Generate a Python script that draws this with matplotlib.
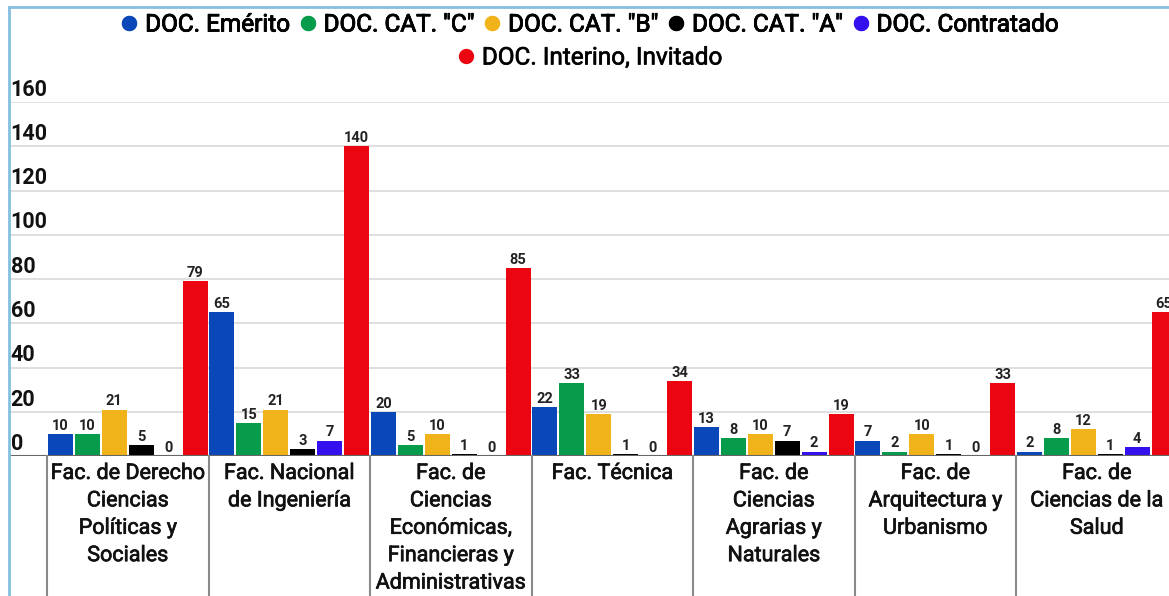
import matplotlib
matplotlib.use("Agg")
import matplotlib.pyplot as plt
import matplotlib.patheffects as pe
from matplotlib.lines import Line2D
import numpy as np

plt.rcParams['font.family'] = ['Roboto', 'DejaVu Sans']

facultades = ["Fac. de Derecho\nCiencias\nPolíticas y\nSociales",
              "Fac. Nacional\nde Ingeniería",
              "Fac. de\nCiencias\nEconómicas,\nFinancieras y\nAdministrativas",
              "Fac. Técnica",
              "Fac. de\nCiencias\nAgrarias y\nNaturales",
              "Fac. de\nArquitectura y\nUrbanismo",
              "Fac. de\nCiencias de la\nSalud"]

series = ['DOC. Emérito', 'DOC. CAT. "C"', 'DOC. CAT. "B"', 'DOC. CAT. "A"',
          'DOC. Contratado', 'DOC. Interino, Invitado']
emerito = [10, 65, 20, 22, 13, 7, 2]
cat_c = [10, 15, 5, 33, 8, 2, 8]
cat_b = [21, 21, 10, 19, 10, 10, 12]
cat_a = [5, 3, 1, 1, 7, 1, 1]
contratado = [0, 7, 0, 0, 2, 0, 4]
interino = [79, 140, 85, 34, 19, 33, 65]
valores = [emerito, cat_c, cat_b, cat_a, contratado, interino]
colores = ['#0a47b9', '#079c4c', '#f0b31a', '#000000', '#3410ee', '#ea0510']
yticks = [0, 20, 40, 60, 80, 100, 120, 140, 160]

W, H = 1169, 596
fig = plt.figure(figsize=(W / 100, H / 100), dpi=100)
# plot area: x from 10px to 1177.5px (cut by the right edge), baseline at y=456, top at y=102
x0, x1 = 10, 1177.5
ax = fig.add_axes([x0 / W, (H - 456) / H, (x1 - x0) / W, (456 - 102) / H])
cat_w = 161.5
ax.set_xlim(-(47 - x0) / cat_w, 7)
ax.set_ylim(0, 160)
for s in ax.spines.values():
    s.set_visible(False)
ax.set_xticks([])
ax.set_yticks([])

# slightly heavier text, like the original rendering
halo = [pe.withStroke(linewidth=0.5, foreground='#111111')]

for t in yticks[1:]:
    ax.axhline(t, color='#d9d9d9', lw=1.2, zorder=0)
for t in yticks:
    ax.annotate(str(t), (0.0, t), xycoords=('axes fraction', 'data'),
                xytext=(0.5, 4.5), textcoords='offset points', ha='left', va='baseline',
                fontsize=15.5, fontweight='bold', color='#111111')

n = len(series)
bw = 1 / n
gap = 0.012
x = np.arange(len(facultades))
for j, (vals, col) in enumerate(zip(valores, colores)):
    pos = x + (j + 0.5) * bw
    ax.bar(pos, vals, width=bw - gap, color=col, zorder=2)
    for p, v in zip(pos, vals):
        ax.annotate(str(v), (p, v), xytext=(0, 3), textcoords='offset points',
                    ha='center', va='baseline', fontsize=10.5, fontweight='bold',
                    color='#222222', annotation_clip=False)

ax.axhline(0, color='#666666', lw=1.5, zorder=3)
# separators between categories, below the baseline
ymin = -(H - 456) / 2.2125
for b in range(len(facultades) + 1):
    ax.plot([b, b], [0, ymin], color='#8a8a8a', lw=1.5, clip_on=False, zorder=3)

for i, lab in enumerate(facultades):
    ax.annotate(lab, (i + 0.5, 0), xytext=(0, -5), textcoords='offset points',
                ha='center', va='top', fontsize=15.5, fontweight='normal',
                linespacing=1.4, color='#111111', annotation_clip=False,
                path_effects=halo)

handles = [Line2D([], [], marker='o', ls='', markersize=10, color=c) for c in colores]
leg1 = fig.legend(handles[:5], series[:5], loc='center', bbox_to_anchor=(590 / W, 1 - 25 / H),
                  ncol=5, frameon=False, handlelength=0.6, handletextpad=0.35,
                  columnspacing=0.45, prop={'size': 17.5, 'weight': 'normal'})
leg2 = fig.legend(handles[5:], series[5:], loc='center', bbox_to_anchor=(590 / W, 1 - 58 / H),
                  ncol=1, frameon=False, handlelength=0.6, handletextpad=0.35,
                  prop={'size': 17.5, 'weight': 'normal'})
fig.add_artist(leg1)
for leg in (leg1, leg2):
    for txt in leg.get_texts():
        txt.set_path_effects(halo)

# light blue frame on left and top
fig.add_artist(Line2D([9 / W, 9 / W], [0, 1 - 7 / H], color='#86bfe0', lw=2))
fig.add_artist(Line2D([9 / W, 1], [1 - 7 / H, 1 - 7 / H], color='#86bfe0', lw=2))

fig.savefig('out.png', dpi=100)
